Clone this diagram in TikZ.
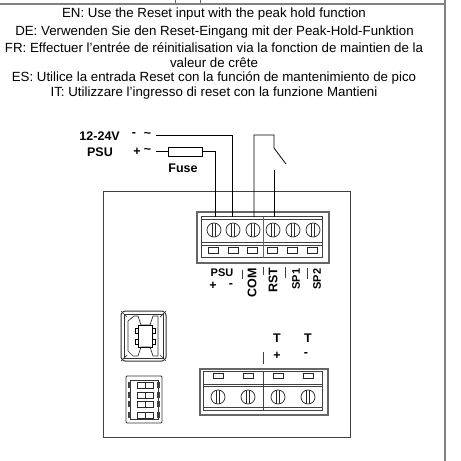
\documentclass[tikz,border=0pt]{standalone}
\usepackage{fontspec}
\setmainfont{Liberation Sans}
\begin{document}
\begin{tikzpicture}[x=1pt,y=-1pt]
        \tikzstyle{caption}=[inner sep=0pt,font=\fontsize{13.3}{15}\selectfont]
        \tikzstyle{tag}=[inner sep=0pt,font=\fontsize{12.5}{14}\selectfont\bfseries]
        \tikzstyle{smalltag}=[inner sep=0pt,font=\fontsize{11}{13}\selectfont\bfseries]
        \tikzstyle{edge}=[draw=black,line width=0.8pt]
        \tikzstyle{frame}=[draw=black!50,line width=1.8pt]
        \tikzstyle{outline}=[draw=black!75,line width=1pt]
        \tikzstyle{screw}=[circle,draw=black!85,line width=0.7pt,minimum size=14pt,inner sep=0pt,path picture={
            \draw[black!85,line width=0.6pt] ([xshift=-1.5pt]path picture bounding box.north) -- ([xshift=-1.5pt]path picture bounding box.south);
            \draw[black!85,line width=0.6pt] ([xshift=1.5pt]path picture bounding box.north) -- ([xshift=1.5pt]path picture bounding box.south);}]
        \tikzstyle{slot}=[rectangle,draw=black!85,line width=0.7pt,minimum width=10pt,minimum height=5.5pt,inner sep=0pt]
        \tikzstyle{fuse}=[rectangle,draw=black,line width=0.8pt,minimum width=34pt,minimum height=9pt,inner sep=0pt]
        \tikzstyle{dip}=[rectangle,draw=black!85,line width=0.7pt,minimum width=16pt,minimum height=6pt,inner sep=0pt]
        \useasboundingbox (0,0) rectangle (461,461);
       \begin{scope}
         % outer table
         \draw[frame] (0,4) -- (445,4);
         \draw[frame] (445,0) -- (445,461);
         \draw[black!60,line width=0.5pt] (175,0) -- (175,3);
         \draw[black!60,line width=0.5pt] (200,0) -- (200,3);
         \node [caption] (len) at (214,14) {EN: Use the Reset input with the peak hold function};
         \node [caption] (lde) at (214.5,32) {DE: Verwenden Sie den Reset-Eingang mit der Peak-Hold-Funktion};
         \node [caption] (lfr) at (214,48) {FR: Effectuer l'entrée de réinitialisation via la fonction de maintien de la};
         \node [caption] (lfrb) at (214,63) {valeur de crête};
         \node [caption] (les) at (214,78) {ES: Utilice la entrada Reset con la función de mantenimiento de pico};
         \node [caption] (lit) at (214,93) {IT: Utilizzare l'ingresso di reset con la funzione Mantieni};
         % housing
         \draw[outline] (103.5,191) rectangle (350,437);
         % upper terminal block
         \draw[draw=black!60,line width=1.4pt] (197,212) rectangle (329,263);
         \draw[outline] (201,216.5) rectangle (322.5,257.5);
         \draw[outline] (201,219) -- (322.5,219);
         \draw[outline] (201,242.5) -- (322.5,242.5);
         \draw[outline] (201,245) -- (322.5,245);
         \draw[draw=black!60,line width=1pt] (263,216.5) -- (263,257.5);
         \node [screw] (s1) at (214,230) {};
         \node [screw] (s2) at (233,230) {};
         \node [screw] (s3) at (253,230) {};
         \node [screw] (s4) at (273,230) {};
         \node [screw] (s5) at (293,230) {};
         \node [screw] (s6) at (313,230) {};
         \foreach \i/\x in {1/213,2/233,3/252,4/272,5/292,6/312}
           \node [slot] (h\i) at (\x,250.5) {};
         % upper terminal labels
         \node [smalltag] (psu) at (222,273) {PSU};
         \node [tag] (pplus) at (213,286) {+};
         \node [tag] (pminus) at (231,286) {-};
         \node [tag,rotate=90] (com) at (252,283) {COM};
         \node [tag,rotate=90] (rst) at (273,280) {RST};
         \node [smalltag,rotate=90] (sp1) at (296,279) {SP1};
         \node [smalltag,rotate=90] (sp2) at (317,279) {SP2};
         \draw[outline] (242,270) -- (242,279);
         \draw[outline] (263,267) -- (263,275);
         \draw[outline] (285,267) -- (285,278);
         \draw[outline] (307,268) -- (307,279);
         % wiring
         \node [tag,anchor=east] (v) at (120,136) {12-24V};
         \node [tag,anchor=east] (p) at (113,152) {PSU};
         \node [tag] (vm) at (134,135) {-};
         \node [tag] (pm) at (137,152) {+};
         \node [tag] (vt) at (147.5,135) {\textasciitilde};
         \node [tag] (pt) at (147.5,151) {\textasciitilde};
         \node [fuse] (f) at (185,151.5) {};
         \node [tag] (fl) at (183,168) {Fuse};
         \coordinate (w1) at (156,135);
         \coordinate (w2) at (156,151.5);
         \coordinate (t1) at (215,217);
         \coordinate (t2) at (232,217);
         \coordinate (t3) at (254,217);
         \coordinate (t4) at (274,217);
         \coordinate (c1) at (274,135);
         \coordinate (c2) at (274,148);
         \coordinate (c3) at (286,164);
         \coordinate (c4) at (274,170);
         \path[edge] (w1) -| (t2);
         \path[edge] (w2) -- (f);
         \path[edge] (f) -| (t1);
         \path[edge] (t3) |- (c1) -- (c2) -- (c3);
         \path[edge] (c4) -- (t4);
         % lower terminal block
         \draw[draw=black!60,line width=1.4pt] (200,369) rectangle (328,415);
         \draw[outline] (203,371) rectangle (322,410);
         \draw[outline] (203,384.5) -- (322,384.5);
         \draw[outline] (203,386.5) -- (322,386.5);
         \draw[outline] (203,407) -- (322,407);
         \draw[draw=black!75,line width=1pt] (263,371) -- (263,410);
         \foreach \i/\x in {1/218,2/248,3/278,4/308} {
           \node [slot] (b\i) at (\x,376) {};
           \node [screw] (m\i) at (\x,397) {};
         }
         \node [tag] (t5) at (277,338) {T};
         \node [tag] (t6) at (308,338) {T};
         \node [tag] (tp) at (277,355.5) {+};
         \node [tag] (tn) at (306,355) {-};
         \draw[outline] (263,352) -- (263,364);
         % usb socket
         \draw[draw=black!80,line width=1pt,rounded corners=1pt] (124,311) -- (163,311) -- (166,314) -- (166,358) -- (163,361) -- (124,361) -- (121,358) -- (121,314) -- cycle;
         \draw[draw=black!80,line width=1pt] (124,314) rectangle (163,358);
         \draw[draw=black!80,line width=0.7pt] (121,311) -- (127,317);
         \draw[draw=black!80,line width=0.7pt] (166,311) -- (160,317);
         \draw[draw=black!80,line width=0.7pt] (121,361) -- (127,355);
         \draw[draw=black!80,line width=0.7pt] (166,361) -- (160,355);
         \draw[draw=black!80,line width=0.7pt] (128,321) -- (134,316) -- (138,316) -- (141,325) -- (150,325) -- (153,316) -- (158,316) -- (158,356) -- (153,356) -- (150,347) -- (141,347) -- (138,356) -- (133,356) -- (128,351) -- cycle;
         \draw[draw=black,line width=1pt] (138,325) rectangle (152,347);
         \draw[draw=black,line width=0.7pt] (135,328) rectangle (138,333);
         \draw[draw=black,line width=0.7pt] (135,339) rectangle (138,344);
         \draw[draw=black,line width=0.7pt] (152,328) rectangle (155,333);
         \draw[draw=black,line width=0.7pt] (152,339) rectangle (155,344);
         % dip switch
         \draw[draw=black!80,line width=0.8pt,rounded corners=1pt] (126,376) rectangle (162,423);
         \draw[draw=black!80,line width=0.7pt] (130,380) rectangle (158,419);
         \foreach \i/\y in {1/385,2/395,3/404,4/415} {
           \node [dip] (d\i) at (145,\y) {};
           \draw[black!85,line width=0.7pt] (145,\y-3) -- (145,\y+3);
           \fill[black!75] (128,\y-3) rectangle (131,\y+3);
           \fill[black!75] (157,\y-3) rectangle (160,\y+3);
         }
        \end{scope}
      \end{tikzpicture}
\end{document}
